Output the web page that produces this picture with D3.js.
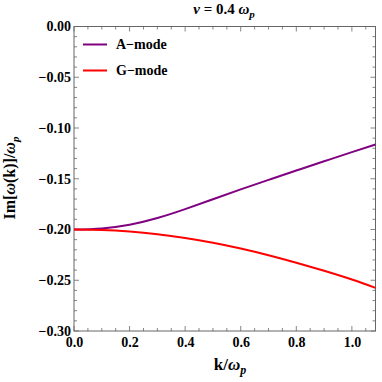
<!DOCTYPE html>
<html>
<head>
<meta charset="utf-8">
<script src="https://cdn.jsdelivr.net/npm/d3@7"></script>
<style>
  body { margin: 0; background: #fff; }
  text { font-family: "Liberation Serif", "DejaVu Serif", serif; font-weight: bold; }
</style>
</head>
<body>
<div id="chart"></div>
<script>
// values
const kValues = [0, 0.1, 0.2, 0.3, 0.4, 0.5, 0.6, 0.7, 0.8, 0.9, 1.0, 1.085]
const aMode = [-0.2, -0.1989, -0.1953, -0.1887, -0.1799, -0.1702, -0.1605, -0.1511, -0.1419, -0.1328, -0.1238, -0.1162]
const gMode = [-0.2, -0.2005, -0.202, -0.2046, -0.2083, -0.213, -0.2187, -0.2253, -0.2327, -0.2407, -0.2493, -0.2575]
const seriesNames = ['A\u2212mode', 'G\u2212mode']
const seriesColors = ['#800080', '#ff0000']
const xTicks = [0, 0.2, 0.4, 0.6, 0.8, 1.0]
const yTicks = [0, -0.05, -0.1, -0.15, -0.2, -0.25, -0.3]

const W = 382, H = 382
const margin = {top: 26.5, right: 6.5, bottom: 51, left: 74}

function drawChart() {
  let svg = d3.select('#chart')
    .append('svg')
    .attr('width', W)
    .attr('height', H)

  let x = d3.scaleLinear()
    .domain([0, 1.085])
    .range([margin.left, W - margin.right])

  let y = d3.scaleLinear()
    .domain([-0.3, 0])
    .range([H - margin.bottom, margin.top])

  const frameColor = '#666'

  // minor + major ticks, pointing inward on all four sides
  let xMinor = d3.range(0, 1.08, 0.05)
  let yMinor = d3.range(-0.3, 0.0001, 0.01)

  let ticks = svg.append('g').attr('stroke', frameColor).attr('stroke-width', 0.8)
  xMinor.forEach(v => {
    let major = xTicks.some(t => Math.abs(t - v) < 1e-6)
    let len = major ? 5 : 3
    ticks.append('line').attr('x1', x(v)).attr('x2', x(v))
      .attr('y1', y(-0.3)).attr('y2', y(-0.3) - len)
    ticks.append('line').attr('x1', x(v)).attr('x2', x(v))
      .attr('y1', y(0)).attr('y2', y(0) + len)
  })
  yMinor.forEach(v => {
    let major = yTicks.some(t => Math.abs(t - v) < 1e-6)
    let len = major ? 5 : 3
    ticks.append('line').attr('y1', y(v)).attr('y2', y(v))
      .attr('x1', x(0)).attr('x2', x(0) + len)
    ticks.append('line').attr('y1', y(v)).attr('y2', y(v))
      .attr('x1', x.range()[1]).attr('x2', x.range()[1] - len)
  })

  // frame
  svg.append('rect')
    .attr('x', x.range()[0]).attr('y', y.range()[1])
    .attr('width', x.range()[1] - x.range()[0])
    .attr('height', y.range()[0] - y.range()[1])
    .attr('fill', 'none')
    .attr('stroke', frameColor)
    .attr('stroke-width', 1)

  // tick labels via axes, lines hidden
  let xAxis = svg.append('g')
    .attr('transform', `translate(0,${y.range()[0]})`)
    .call(d3.axisBottom(x).tickValues(xTicks).tickFormat(d3.format('.1f')).tickSize(0).tickPadding(6))
  xAxis.select('.domain').remove()
  xAxis.selectAll('text').attr('font-size', 14).attr('fill', '#000')
    .style('font-family', '"Liberation Serif", serif').style('font-weight', 'bold')

  let yFmt = d => d === 0 ? '0.00' : '\u2212' + d3.format('.2f')(-d)
  let yAxis = svg.append('g')
    .attr('transform', `translate(${x.range()[0]},0)`)
    .call(d3.axisLeft(y).tickValues(yTicks).tickFormat(yFmt).tickSize(0).tickPadding(3))
  yAxis.select('.domain').remove()
  yAxis.selectAll('text').attr('font-size', 14).attr('fill', '#000')
    .style('font-family', '"Liberation Serif", serif').style('font-weight', 'bold')

  // curves
  let line = d3.line()
    .x(d => x(d[0]))
    .y(d => y(d[1]))
    .curve(d3.curveNatural)

  let series = [aMode, gMode]
  series.forEach((vals, i) => {
    svg.append('path')
      .datum(kValues.map((k, j) => [k, vals[j]]))
      .attr('d', line)
      .attr('fill', 'none')
      .attr('stroke', seriesColors[i])
      .attr('stroke-width', 2)
  })

  // legend
  let legend = svg.append('g')
  seriesNames.forEach((name, i) => {
    let ly = 44.5 + i * 26
    legend.append('line')
      .attr('x1', 83).attr('x2', 107)
      .attr('y1', ly).attr('y2', ly)
      .attr('stroke', seriesColors[i])
      .attr('stroke-width', 2)
    legend.append('text')
      .attr('x', 116).attr('y', ly + 4.5)
      .attr('font-size', 14)
      .text(name)
  })

  // title
  let title = svg.append('text')
    .attr('x', 224).attr('y', 14)
    .attr('text-anchor', 'middle')
    .attr('font-size', 15)
  title.append('tspan').attr('font-style', 'italic').text('\u03bd')
  title.append('tspan').text(' = 0.4 ')
  title.append('tspan').attr('font-style', 'italic').text('\u03c9')
  title.append('tspan').attr('font-style', 'italic').attr('font-size', 11).attr('dy', 4).text('p')

  // x label
  let xl = svg.append('text')
    .attr('x', 230).attr('y', 370)
    .attr('text-anchor', 'middle')
    .attr('font-size', 17)
  xl.append('tspan').text('k/')
  xl.append('tspan').attr('font-style', 'italic').text('\u03c9')
  xl.append('tspan').attr('font-style', 'italic').attr('font-size', 12).attr('dy', 4).text('p')

  // y label
  let yl = svg.append('text')
    .attr('transform', 'translate(15,178) rotate(-90)')
    .attr('text-anchor', 'middle')
    .attr('font-size', 16)
  yl.append('tspan').text('Im[')
  yl.append('tspan').attr('font-style', 'italic').text('\u03c9')
  yl.append('tspan').text('(k)]/')
  yl.append('tspan').attr('font-style', 'italic').text('\u03c9')
  yl.append('tspan').attr('font-style', 'italic').attr('font-size', 11).attr('dy', 4).text('p')
}

drawChart()
</script>
</body>
</html>
